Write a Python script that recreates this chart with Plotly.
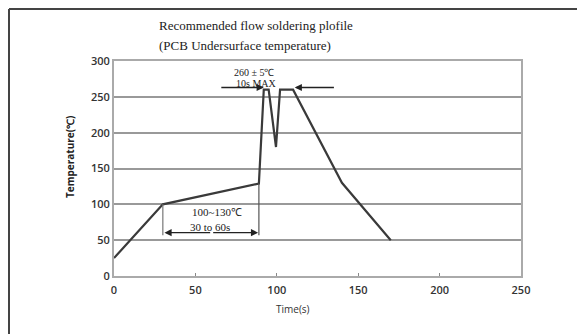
import plotly.graph_objects as go

# Data
time_s = [0, 30, 89, 92, 95, 99.5, 102, 110, 140, 170]
temp_c = [25, 100, 129, 260, 260, 180, 260, 260, 130, 50]
x_ticks = [0, 50, 100, 150, 200, 250]
y_ticks = [0, 50, 100, 150, 200, 250, 300]
title_lines = ["Recommended flow soldering plofile", "(PCB Undersurface temperature)"]
label_preheat_temp = "100~130℃"
label_preheat_time = "30 to 60s"
label_peak_temp = "260 ± 5℃"
label_peak_time = "10s MAX"

W, H = 585, 334
OFF = 8  # page body margin
L, R, T, B = 114, 64, 61, 58  # in page pixels
pw, ph = W - L - R, H - T - B

def px(xp):
    return (xp - L) / pw

def py(yp):
    return (H - B - yp) / ph

fig = go.Figure()
fig.add_trace(go.Scatter(x=time_s, y=temp_c, mode="lines",
                         line=dict(color="#3a3a3a", width=2.2), showlegend=False,
                         hoverinfo="skip"))

serif = "Liberation Serif"
sans = "Open Sans"

shapes = []
shapes.append(dict(type="line", xref="x", yref="y", x0=30, x1=30, y0=100, y1=57,
                   line=dict(color="#777", width=1.2)))
shapes.append(dict(type="line", xref="x", yref="y", x0=89, x1=89, y0=129, y1=57,
                   line=dict(color="#555", width=1.2)))
# outer frame (top and left visible)
shapes.append(dict(type="line", xref="paper", yref="paper", x0=px(9), x1=px(600),
                   y0=py(9), y1=py(9), line=dict(color="#444", width=2)))
shapes.append(dict(type="line", xref="paper", yref="paper", x0=px(9), x1=px(9),
                   y0=py(9), y1=py(345), line=dict(color="#444", width=2)))

ann = []
ann.append(dict(text=title_lines[0], xref="paper", yref="paper", x=px(157), y=py(25),
                xanchor="left", yanchor="middle", showarrow=False,
                font=dict(family=serif, size=13, color="#222")))
ann.append(dict(text=title_lines[1], xref="paper", yref="paper", x=px(157), y=py(45),
                xanchor="left", yanchor="middle", showarrow=False,
                font=dict(family=serif, size=13, color="#222")))
ann.append(dict(text="Time(s)", xref="paper", yref="paper", x=px(293), y=py(309),
                xanchor="center", yanchor="middle", showarrow=False,
                font=dict(family=sans, size=10, color="#333")))
ann.append(dict(text="<b>Temperature(℃)</b>", xref="paper", yref="paper", x=px(70), y=py(157),
                xanchor="center", yanchor="middle", showarrow=False, textangle=-90,
                font=dict(family=sans, size=10, color="#222")))
ann.append(dict(text=label_preheat_temp, x=63, y=89, xref="x", yref="y", showarrow=False,
                font=dict(family=serif, size=11, color="#222")))
ann.append(dict(text=label_preheat_time, x=59, y=68, xref="x", yref="y", showarrow=False,
                font=dict(family=serif, size=11, color="#222")))
for head, tail in [(31, 60), (88.5, 60)]:
    ann.append(dict(x=head, y=60.5, ax=tail, ay=60.5, xref="x", yref="y", axref="x", ayref="y",
                    showarrow=True, arrowhead=2, arrowsize=1.1, arrowwidth=1.3,
                    arrowcolor="#222", text=""))
ann.append(dict(text=label_peak_temp, x=86.5, y=284, xref="x", yref="y", showarrow=False,
                font=dict(family=serif, size=10, color="#222")))
ann.append(dict(text=label_peak_time, x=87.5, y=268, xref="x", yref="y", showarrow=False,
                font=dict(family=serif, size=10, color="#222")))
ann.append(dict(x=92, y=263, ax=65, ay=263, xref="x", yref="y", axref="x", ayref="y",
                showarrow=True, arrowhead=2, arrowsize=1.1, arrowwidth=1.3,
                arrowcolor="#222", text=""))
ann.append(dict(x=111, y=263, ax=136, ay=263, xref="x", yref="y", axref="x", ayref="y",
                showarrow=True, arrowhead=2, arrowsize=1.1, arrowwidth=1.3,
                arrowcolor="#222", text=""))

fig.update_layout(
    width=W - OFF, height=H - OFF,
    margin=dict(l=L - OFF, r=R, t=T - OFF, b=B, pad=0),
    paper_bgcolor="white", plot_bgcolor="white",
    shapes=shapes, annotations=ann,
    xaxis=dict(range=[0, 250], tickvals=x_ticks, showgrid=False, zeroline=False,
               showline=True, linecolor="#aaa", linewidth=2, mirror=True,
               ticks="inside", ticklen=3, tickcolor="#888", ticklabelstandoff=3,
               tickfont=dict(family=sans, size=11, color="#333", weight=600)),
    yaxis=dict(range=[0, 300], tickvals=y_ticks, showgrid=True, gridcolor="#999",
               gridwidth=1.5, zeroline=False,
               showline=True, linecolor="#aaa", linewidth=2, mirror=True,
               ticks="", tickfont=dict(family=sans, size=11, color="#333", weight=600)),
)

fig.write_html("out.html")
